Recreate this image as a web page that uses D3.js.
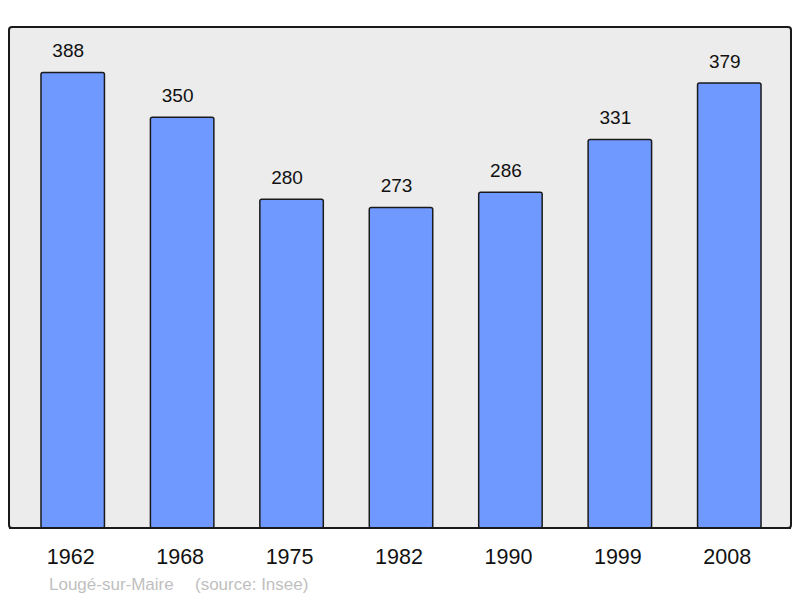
<!DOCTYPE html>
<html><head><meta charset="utf-8">
<script src="https://cdn.jsdelivr.net/npm/d3@7"></script>
<style>body{margin:0;background:#fff}</style>
</head><body>
<svg id="c" width="800" height="598"></svg>
<script>
const years = ["1962","1968","1975","1982","1990","1999","2008"];
const population = [388,350,280,273,286,331,379];
const title = "Lougé-sur-Maire";
const source = "(source: Insee)";

const svg = d3.select("#c");
const frame = {x0: 9, y0: 27, x1: 791, y1: 528};
svg.append("rect").attr("x", frame.x0).attr("y", frame.y0)
  .attr("width", frame.x1 - frame.x0).attr("height", frame.y1 - frame.y0)
  .attr("rx", 3).attr("fill", "#ececec").attr("stroke", "#1a1a1a").attr("stroke-width", 2);

const x = d3.scaleBand().domain(years).range([18, 784]).paddingInner(0.42).paddingOuter(0.21);
const y = d3.scaleLinear().domain([0, d3.max(population) * 1.1]).range([frame.y1, frame.y0]);

const g = svg.append("g");
g.selectAll("rect.bar").data(years).join("rect").attr("class","bar")
  .attr("x", d => x(d)).attr("width", x.bandwidth())
  .attr("y", (d,i) => y(population[i])).attr("height", (d,i) => frame.y1 - y(population[i]))
  .attr("rx", 2)
  .attr("fill", "#7099ff").attr("stroke", "#1a1a1a").attr("stroke-width", 1.5);

g.selectAll("text.val").data(years).join("text").attr("class","val")
  .attr("x", d => x(d) + x.bandwidth()/2 - 4.5)
  .attr("y", (d,i) => y(population[i]) - 15.5)
  .attr("text-anchor","middle").attr("font-family","Liberation Sans, Arial, sans-serif")
  .attr("font-size", 19).attr("fill","#111").text((d,i) => population[i]);

svg.append("line").attr("x1", frame.x0).attr("x2", frame.x1).attr("y1", frame.y1).attr("y2", frame.y1)
  .attr("stroke","#1a1a1a").attr("stroke-width",2);

const axis = d3.axisBottom(x).tickSize(0).tickPadding(0);
const ax = svg.append("g").attr("transform", `translate(0,${frame.y1})`).call(axis);
ax.select(".domain").remove();
ax.selectAll("text").attr("font-family","Liberation Sans, Arial, sans-serif")
  .attr("font-size", 21.5).attr("fill","#111").attr("dy", null).attr("y", 35.5)
  .attr("transform", "translate(-2,0)");

svg.append("text").attr("x", 49).attr("y", 590).attr("font-family","Liberation Sans, Arial, sans-serif")
  .attr("font-size", 17).attr("fill","#c0c0c0").text(title);
svg.append("text").attr("x", 195).attr("y", 590).attr("font-family","Liberation Sans, Arial, sans-serif")
  .attr("font-size", 17).attr("fill","#c0c0c0").text(source);
</script>
</body></html>
